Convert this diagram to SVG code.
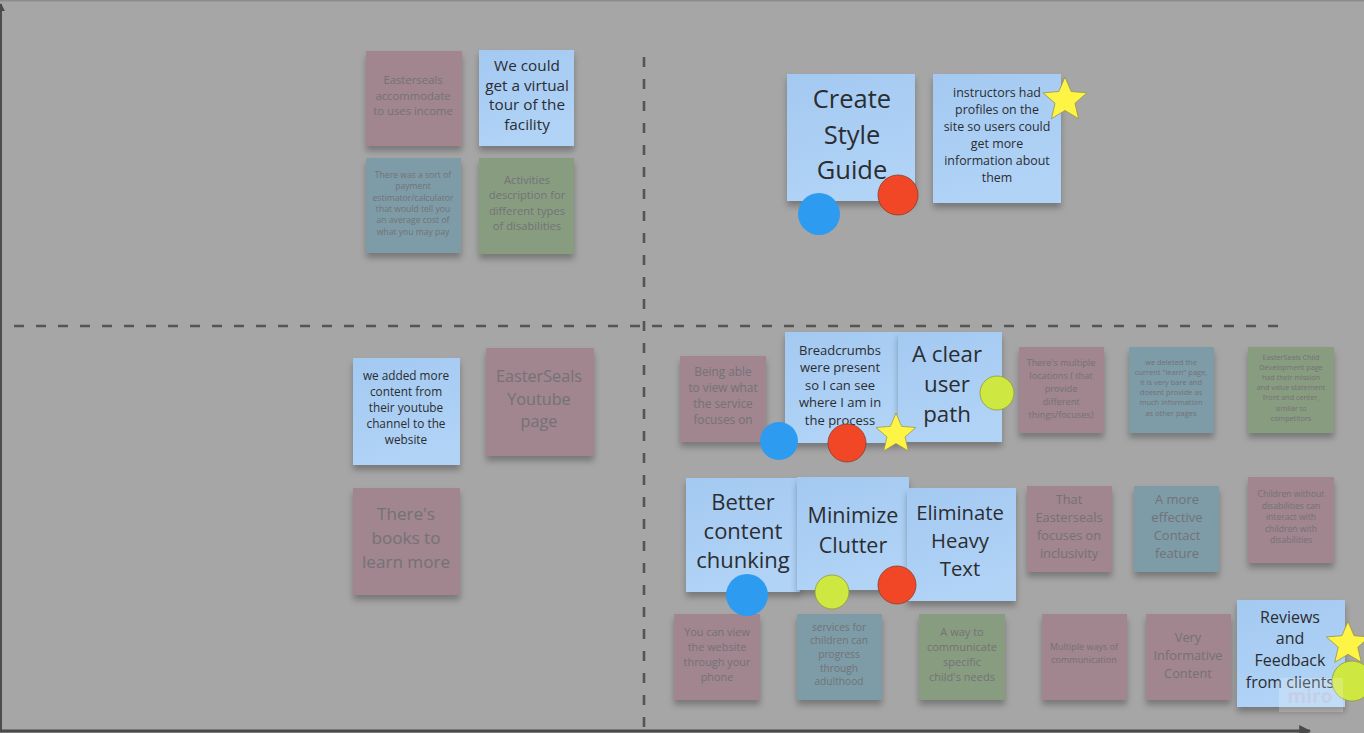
<svg xmlns="http://www.w3.org/2000/svg" width="1364" height="733" viewBox="0 0 1364 733">
<defs>
<style>
.bg{fill:#a6a6a6}
.pink{fill:#a1858f}
.teal{fill:#7d9ca7}
.green{fill:#889c80}
.blue{fill:url(#bluegrad)}
.s{filter:url(#sh)}
.dim{font-family:"Open Sans","Noto Sans","Liberation Sans",sans-serif;fill:#737276;text-anchor:middle}
.hi{font-family:"Open Sans","Noto Sans","Liberation Sans",sans-serif;fill:#2b2d31;text-anchor:middle}
.dash{stroke:#555;stroke-width:2.6;stroke-dasharray:10 12;fill:none}
.dblue{fill:#2d9bf0}
.dred{fill:#f24726;stroke:#8a3b2c;stroke-width:0.8}
.dyel{fill:#cee741;stroke:#8e9a3e;stroke-width:0.8}
.star{fill:#fef445;stroke:#9a9450;stroke-width:0.8}
</style>
<linearGradient id="bluegrad" x1="0" y1="0" x2="0.3" y2="1">
<stop offset="0" stop-color="#a4c9f1"/>
<stop offset="1" stop-color="#b0d3f6"/>
</linearGradient>
<filter id="sh" x="-20%" y="-20%" width="140%" height="150%">
<feDropShadow dx="0" dy="5" stdDeviation="3" flood-color="#000" flood-opacity="0.28"/>
</filter>
<path id="starp" d="M0,-22 L5.88,-8.09 L20.92,-6.8 L9.51,3.09 L12.93,17.8 L0,10 L-12.93,17.8 L-9.51,3.09 L-20.92,-6.8 L-5.88,-8.09 Z"/>
<marker id="ah" viewBox="0 0 10 10" refX="9" refY="5" markerWidth="4" markerHeight="4" orient="auto-start-reverse">
<path d="M0,0 L10,5 L0,10 Z" fill="#4a4a4a"/>
</marker>
</defs>

<rect class="bg" x="0" y="0" width="1364" height="733"/>
<rect x="0" y="0" width="1364" height="1.5" fill="#8c8c8c"/>

<g id="connectors">
<line x1="1" y1="731" x2="1" y2="4" stroke="#4d4d4d" stroke-width="2" marker-end="url(#ah)"/>
<line x1="0" y1="731" x2="1310" y2="731" stroke="#4a4a4a" stroke-width="3" marker-end="url(#ah)"/>
<line class="dash" x1="644" y1="57" x2="644" y2="733"/>
<line class="dash" x1="14" y1="326" x2="1290" y2="326"/>
</g>

<g id="n1"><rect class="pink s" x="366" y="51" width="96" height="95"/>
<text class="dim" font-size="11.3"><tspan x="413" y="84">Easterseals</tspan><tspan x="413" dy="15.5">accommodate</tspan><tspan x="413" dy="15.5">to uses income</tspan></text></g>

<g id="n2"><rect class="blue s" x="479" y="50" width="95" height="96"/>
<text class="hi" font-size="15.3"><tspan x="527" y="71">We could</tspan><tspan x="527" dy="19.5">get a virtual</tspan><tspan x="527" dy="19.5">tour of the</tspan><tspan x="527" dy="19.5">facility</tspan></text></g>

<g id="n3"><rect class="teal s" x="366" y="158" width="95" height="95"/>
<text class="dim" font-size="8.6"><tspan x="413" y="178">There was a sort of</tspan><tspan x="413" dy="11.3">payment</tspan><tspan x="413" dy="11.3">estimator/calculator</tspan><tspan x="413" dy="11.3">that would tell you</tspan><tspan x="413" dy="11.3">an average cost of</tspan><tspan x="413" dy="11.3">what you may pay</tspan></text></g>

<g id="n4"><rect class="green s" x="479" y="158" width="95" height="96"/>
<text class="dim" font-size="11.2"><tspan x="527" y="184">Activities</tspan><tspan x="527" dy="15.3">description for</tspan><tspan x="527" dy="15.3">different types</tspan><tspan x="527" dy="15.3">of disabilities</tspan></text></g>

<g id="n5"><rect class="blue s" x="787" y="74" width="128" height="127"/>
<text class="hi" font-size="25.5"><tspan x="852" y="108">Create</tspan><tspan x="852" dy="35.5">Style</tspan><tspan x="852" dy="35.5">Guide</tspan></text></g>

<g id="n6"><rect class="blue s" x="933" y="74" width="128" height="129"/>
<text class="hi" font-size="12.4"><tspan x="997" y="97">instructors had</tspan><tspan x="997" dy="17">profiles on the</tspan><tspan x="997" dy="17">site so users could</tspan><tspan x="997" dy="17">get more</tspan><tspan x="997" dy="17">information about</tspan><tspan x="997" dy="17">them</tspan></text></g>

<g id="n7"><rect class="blue s" x="353" y="358" width="107" height="107"/>
<text class="hi" font-size="11.8"><tspan x="406" y="380">we added more</tspan><tspan x="406" dy="16">content from</tspan><tspan x="406" dy="16">their youtube</tspan><tspan x="406" dy="16">channel to the</tspan><tspan x="406" dy="16">website</tspan></text></g>

<g id="n8"><rect class="pink s" x="486" y="348" width="108" height="108"/>
<text class="dim" font-size="16.2"><tspan x="539" y="382">EasterSeals</tspan><tspan x="539" dy="22.5">Youtube</tspan><tspan x="539" dy="22.5">page</tspan></text></g>

<g id="n9"><rect class="pink s" x="353" y="488" width="107" height="107"/>
<text class="dim" font-size="17.1"><tspan x="406" y="520">There's</tspan><tspan x="406" dy="24">books to</tspan><tspan x="406" dy="24">learn more</tspan></text></g>

<g id="n10"><rect class="pink s" x="680" y="356" width="86" height="86"/>
<text class="dim" font-size="11.8"><tspan x="723" y="376">Being able</tspan><tspan x="723" dy="16">to view what</tspan><tspan x="723" dy="16">the service</tspan><tspan x="723" dy="16">focuses on</tspan></text></g>

<g id="n11"><rect class="blue s" x="785" y="332" width="113" height="111"/>
<text class="hi" font-size="13"><tspan x="840" y="354.5">Breadcrumbs</tspan><tspan x="840" dy="17.5">were present</tspan><tspan x="840" dy="17.5">so I can see</tspan><tspan x="840" dy="17.5">where I am in</tspan><tspan x="840" dy="17.5">the process</tspan></text></g>

<g id="n12"><rect class="blue s" x="898" y="332" width="104" height="110"/>
<text class="hi" font-size="22.3"><tspan x="947" y="362">A clear</tspan><tspan x="947" dy="30">user</tspan><tspan x="947" dy="30">path</tspan></text></g>

<g id="n13"><rect class="pink s" x="1019" y="347" width="85" height="86"/>
<text class="dim" font-size="9.2"><tspan x="1061" y="365.5">There's multiple</tspan><tspan x="1061" dy="13">locations ( that</tspan><tspan x="1061" dy="13">provide</tspan><tspan x="1061" dy="13">different</tspan><tspan x="1061" dy="13">things/focuses)</tspan></text></g>

<g id="n14"><rect class="teal s" x="1129" y="347" width="85" height="86"/>
<text class="dim" font-size="7.5"><tspan x="1171" y="364.5">we deleted the</tspan><tspan x="1171" dy="10.2">current "learn" page,</tspan><tspan x="1171" dy="10.2">it is very bare and</tspan><tspan x="1171" dy="10.2">doesnt provide as</tspan><tspan x="1171" dy="10.2">much information</tspan><tspan x="1171" dy="10.2">as other pages</tspan></text></g>

<g id="n15"><rect class="green s" x="1248" y="347" width="86" height="86"/>
<text class="dim" font-size="7.2"><tspan x="1291" y="359.5">EasterSeals Child</tspan><tspan x="1291" dy="10.2">Development page</tspan><tspan x="1291" dy="10.2">had their mission</tspan><tspan x="1291" dy="10.2">and value statement</tspan><tspan x="1291" dy="10.2">front and center,</tspan><tspan x="1291" dy="10.2">similar to</tspan><tspan x="1291" dy="10.2">competitors</tspan></text></g>

<g id="n16"><rect class="blue s" x="686" y="478" width="114" height="114"/>
<text class="hi" font-size="22"><tspan x="743" y="509.5">Better</tspan><tspan x="743" dy="29">content</tspan><tspan x="743" dy="29">chunking</tspan></text></g>

<g id="n17"><rect class="blue s" x="797" y="477" width="112" height="113"/>
<text class="hi" font-size="21.5"><tspan x="853" y="522.5">Minimize</tspan><tspan x="853" dy="30">Clutter</tspan></text></g>

<g id="n18"><rect class="blue s" x="907" y="488" width="109" height="113"/>
<text class="hi" font-size="20.3"><tspan x="960" y="520">Eliminate</tspan><tspan x="960" dy="28">Heavy</tspan><tspan x="960" dy="28">Text</tspan></text></g>

<g id="n19"><rect class="pink s" x="1027" y="486" width="85" height="86"/>
<text class="dim" font-size="12.8"><tspan x="1069" y="504">That</tspan><tspan x="1069" dy="18">Easterseals</tspan><tspan x="1069" dy="18">focuses on</tspan><tspan x="1069" dy="18">inclusivity</tspan></text></g>

<g id="n20"><rect class="teal s" x="1134" y="486" width="85" height="86"/>
<text class="dim" font-size="13"><tspan x="1177" y="504">A more</tspan><tspan x="1177" dy="18">effective</tspan><tspan x="1177" dy="18">Contact</tspan><tspan x="1177" dy="18">feature</tspan></text></g>

<g id="n21"><rect class="pink s" x="1248" y="477" width="86" height="86"/>
<text class="dim" font-size="8.6"><tspan x="1291" y="497">Children without</tspan><tspan x="1291" dy="11.5">disabilities can</tspan><tspan x="1291" dy="11.5">interact with</tspan><tspan x="1291" dy="11.5">children with</tspan><tspan x="1291" dy="11.5">disabilities</tspan></text></g>

<g id="n22"><rect class="pink s" x="674" y="614" width="86" height="86"/>
<text class="dim" font-size="10.9"><tspan x="717" y="636">You can view</tspan><tspan x="717" dy="15">the website</tspan><tspan x="717" dy="15">through your</tspan><tspan x="717" dy="15">phone</tspan></text></g>

<g id="n23"><rect class="teal s" x="797" y="614" width="85" height="86"/>
<text class="dim" font-size="10.2"><tspan x="839" y="630.5">services for</tspan><tspan x="839" dy="13.7">children can</tspan><tspan x="839" dy="13.7">progress</tspan><tspan x="839" dy="13.7">through</tspan><tspan x="839" dy="13.7">adulthood</tspan></text></g>

<g id="n24"><rect class="green s" x="919" y="614" width="86" height="86"/>
<text class="dim" font-size="11"><tspan x="962" y="636">A way to</tspan><tspan x="962" dy="15">communicate</tspan><tspan x="962" dy="15">specific</tspan><tspan x="962" dy="15">child's needs</tspan></text></g>

<g id="n25"><rect class="pink s" x="1042" y="614" width="85" height="86"/>
<text class="dim" font-size="9"><tspan x="1084" y="650">Multiple ways of</tspan><tspan x="1084" dy="13">communication</tspan></text></g>

<g id="n26"><rect class="pink s" x="1146" y="614" width="85" height="86"/>
<text class="dim" font-size="12.8"><tspan x="1188" y="641.5">Very</tspan><tspan x="1188" dy="18">Informative</tspan><tspan x="1188" dy="18">Content</tspan></text></g>

<g id="n27"><rect class="blue s" x="1237" y="600" width="108" height="107"/>
<text class="hi" font-size="16"><tspan x="1290" y="622.5">Reviews</tspan><tspan x="1290" dy="21.7">and</tspan><tspan x="1290" dy="21.7">Feedback</tspan><tspan x="1290" dy="21.7">from clients</tspan></text></g>

<g id="votes">
<circle class="dblue" cx="819" cy="214" r="21"/>
<circle class="dred" cx="898" cy="195" r="20"/>
<use href="#starp" class="star" transform="translate(1065,100) scale(1.05)"/>
<circle class="dblue" cx="779" cy="441" r="19"/>
<circle class="dred" cx="847" cy="443" r="19"/>
<use href="#starp" class="star" transform="translate(896,434) scale(0.95)"/>
<circle class="dyel" cx="997" cy="393" r="17"/>
<circle class="dblue" cx="747" cy="595" r="21"/>
<circle class="dyel" cx="832" cy="592" r="17"/>
<circle class="dred" cx="897" cy="585" r="19"/>
<use href="#starp" class="star" transform="translate(1348,644) scale(1.03)"/>
<circle class="dyel" cx="1352" cy="681" r="20"/>
</g>

<g id="watermark">
<rect x="1279" y="678" width="64" height="34" fill="#ffffff" fill-opacity="0.22"/>
<text x="1310" y="703" font-family="'Open Sans','Liberation Sans',sans-serif" font-size="19" font-weight="bold" fill="#c7cbe0" fill-opacity="0.8" text-anchor="middle">miro</text>
</g>
</svg>
